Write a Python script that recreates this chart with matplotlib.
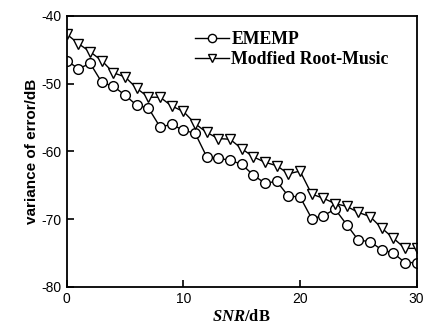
import matplotlib
matplotlib.use("Agg")
import matplotlib.pyplot as plt

plt.rcParams["axes.unicode_minus"] = False
plt.rcParams["mathtext.fontset"] = "custom"
plt.rcParams["mathtext.rm"] = "Liberation Serif:bold"
plt.rcParams["mathtext.it"] = "Liberation Serif:italic:bold"
plt.rcParams["mathtext.bf"] = "Liberation Serif:bold"

# data
snr = list(range(31))
ememp = [-46.6, -47.8, -47.0, -49.8, -50.4, -51.7, -53.2, -53.6, -56.4, -56.0,
         -56.9, -57.3, -60.8, -61.0, -61.3, -61.9, -63.5, -64.7, -64.4, -66.6,
         -66.7, -69.9, -69.5, -68.5, -70.8, -73.1, -73.3, -74.5, -75.0, -76.4,
         -76.4]
root_music = [-42.7, -44.1, -45.3, -46.6, -48.4, -49.0, -50.7, -52.0, -52.0, -53.3,
              -54.1, -55.9, -57.2, -58.1, -58.2, -59.6, -60.8, -61.6, -62.1, -63.3,
              -62.9, -66.3, -66.9, -67.7, -68.1, -69.0, -69.6, -71.3, -72.8, -74.3,
              -74.3]
legendLabel = ["EMEMP", "Modfied Root-Music"]

fig = plt.figure(figsize=(4.34, 3.25), dpi=100)
ax = fig.add_axes([0.154, 0.117, 0.806, 0.834])

ax.plot(snr, ememp, color="black", linewidth=1.0, marker="o", markersize=7,
        markerfacecolor="white", markeredgecolor="black", markeredgewidth=1.0,
        label=legendLabel[0])
ax.plot(snr, root_music, color="black", linewidth=1.0, marker="v", markersize=7,
        markerfacecolor="white", markeredgecolor="black", markeredgewidth=1.0,
        label=legendLabel[1])

ax.set_xlim(0, 30)
ax.set_ylim(-80, -40)
ax.set_xticks([0, 10, 20, 30])
ax.set_yticks([-80, -70, -60, -50, -40])
ax.tick_params(direction="in", length=5, width=1.2, labelsize=10)
for lab in ax.get_xticklabels() + ax.get_yticklabels():
    lab.set_family("Liberation Sans")
for sp in ax.spines.values():
    sp.set_linewidth(1.3)

ax.set_xlabel(r"$\mathit{SNR}$/dB", fontsize=12, fontweight="bold",
              family="Liberation Serif", labelpad=2)
ax.set_ylabel("variance of error/dB", fontsize=11, fontweight="bold",
              family="Liberation Sans", labelpad=2)

leg = ax.legend(loc="upper left", frameon=False,
                prop={"family": "Liberation Serif", "weight": "bold", "size": 12.8},
                handlelength=1.9, handletextpad=0.15, labelspacing=0.15,
                borderpad=0, borderaxespad=0, markerscale=0.85,
                bbox_to_anchor=(0.366, 0.944))

fig.savefig("out.png", dpi=100)
